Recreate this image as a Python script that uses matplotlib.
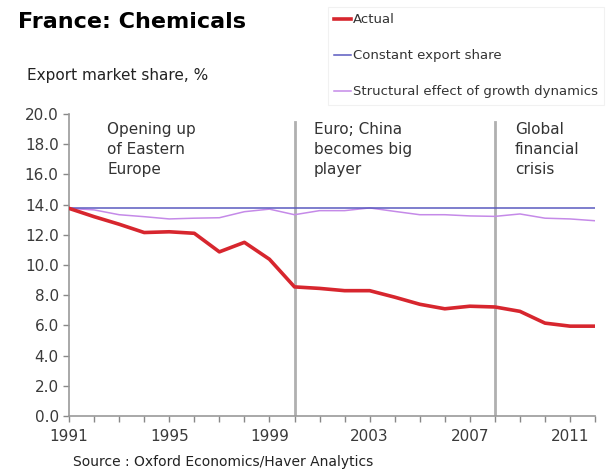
import numpy as np
import matplotlib
matplotlib.use("Agg")
import matplotlib.pyplot as plt

years = list(range(1991, 2013))
actual = [13.75, 13.2, 12.7, 12.15, 12.2, 12.1, 10.87, 11.5, 10.38, 8.55, 8.45,
          8.3, 8.3, 7.87, 7.4, 7.1, 7.27, 7.22, 6.93, 6.15, 5.95, 5.95]
constant = [13.75] * 22
structural = [13.75, 13.65, 13.33, 13.2, 13.05, 13.1, 13.13, 13.53, 13.7, 13.33, 13.6,
              13.6, 13.78, 13.55, 13.33, 13.33, 13.25, 13.22, 13.38, 13.1, 13.05, 12.93]
events = [2000, 2008]
event_labels = ["Opening up\nof Eastern\nEurope", "Euro; China\nbecomes big\nplayer",
                "Global\nfinancial\ncrisis"]
event_label_x = [1992.52, 2000.78, 2008.8]

plt.rcParams['font.family'] = ['DejaVu Sans']

fig = plt.figure(figsize=(6.11, 4.73), dpi=100)
ax = fig.add_axes([0.113, 0.1205, 0.861, 0.6385])

for x in events:
    ax.plot([x, x], [0, 19.5], color='#b0b0b0', lw=2, zorder=1)

l1, = ax.plot(years, actual, color='#d7262e', lw=2.6, label='Actual', zorder=4)
l2, = ax.plot(years, constant, color='#5a5ac0', lw=1.1, label='Constant export share', zorder=3)
l3, = ax.plot(years, structural, color='#c58ae8', lw=1.1,
              label='Structural effect of growth dynamics', zorder=2)

for x, t in zip(event_label_x, event_labels):
    ax.text(x, 19.45, t, fontsize=11, color='#333333', va='top', ha='left',
            linespacing=1.4)

ax.set_xlim(1991, 2012)
ax.set_ylim(0, 20)
ax.set_yticks(np.arange(0, 20.1, 2))
ax.set_yticklabels([f"{v:.1f}" for v in np.arange(0, 20.1, 2)])
ax.set_xticks(years)
ax.set_xticklabels([str(y) if (y - 1991) % 4 == 0 else '' for y in years])
ax.tick_params(axis='both', colors='#888888', labelcolor='#3a3a3a', labelsize=11,
               length=4, width=1)
ax.tick_params(axis='x', pad=5)
for s in ['top', 'right']:
    ax.spines[s].set_visible(False)
for s in ['left', 'bottom']:
    ax.spines[s].set_color('#999999')
    ax.spines[s].set_linewidth(1.2)

fig.text(0.03, 0.953, 'France: Chemicals', fontsize=16, fontweight='bold', va='center')
fig.text(0.045, 0.84, 'Export market share, %', fontsize=11, color='#222222', va='center')
fig.text(0.119, 0.023, 'Source : Oxford Economics/Haver Analytics', fontsize=10,
         color='#222222', va='center')

leg = fig.legend(handles=[l1, l2, l3], loc='upper right', bbox_to_anchor=(1.0, 1.0),
                 fontsize=9.5, handlelength=1.3, handletextpad=0.1, labelspacing=1.75,
                 frameon=True, fancybox=False, borderpad=0.5)
leg.get_frame().set_edgecolor('#eeeeee')
leg.get_frame().set_linewidth(0.8)
for t in leg.get_texts():
    t.set_color('#333333')

fig.savefig('out.png', dpi=100)
